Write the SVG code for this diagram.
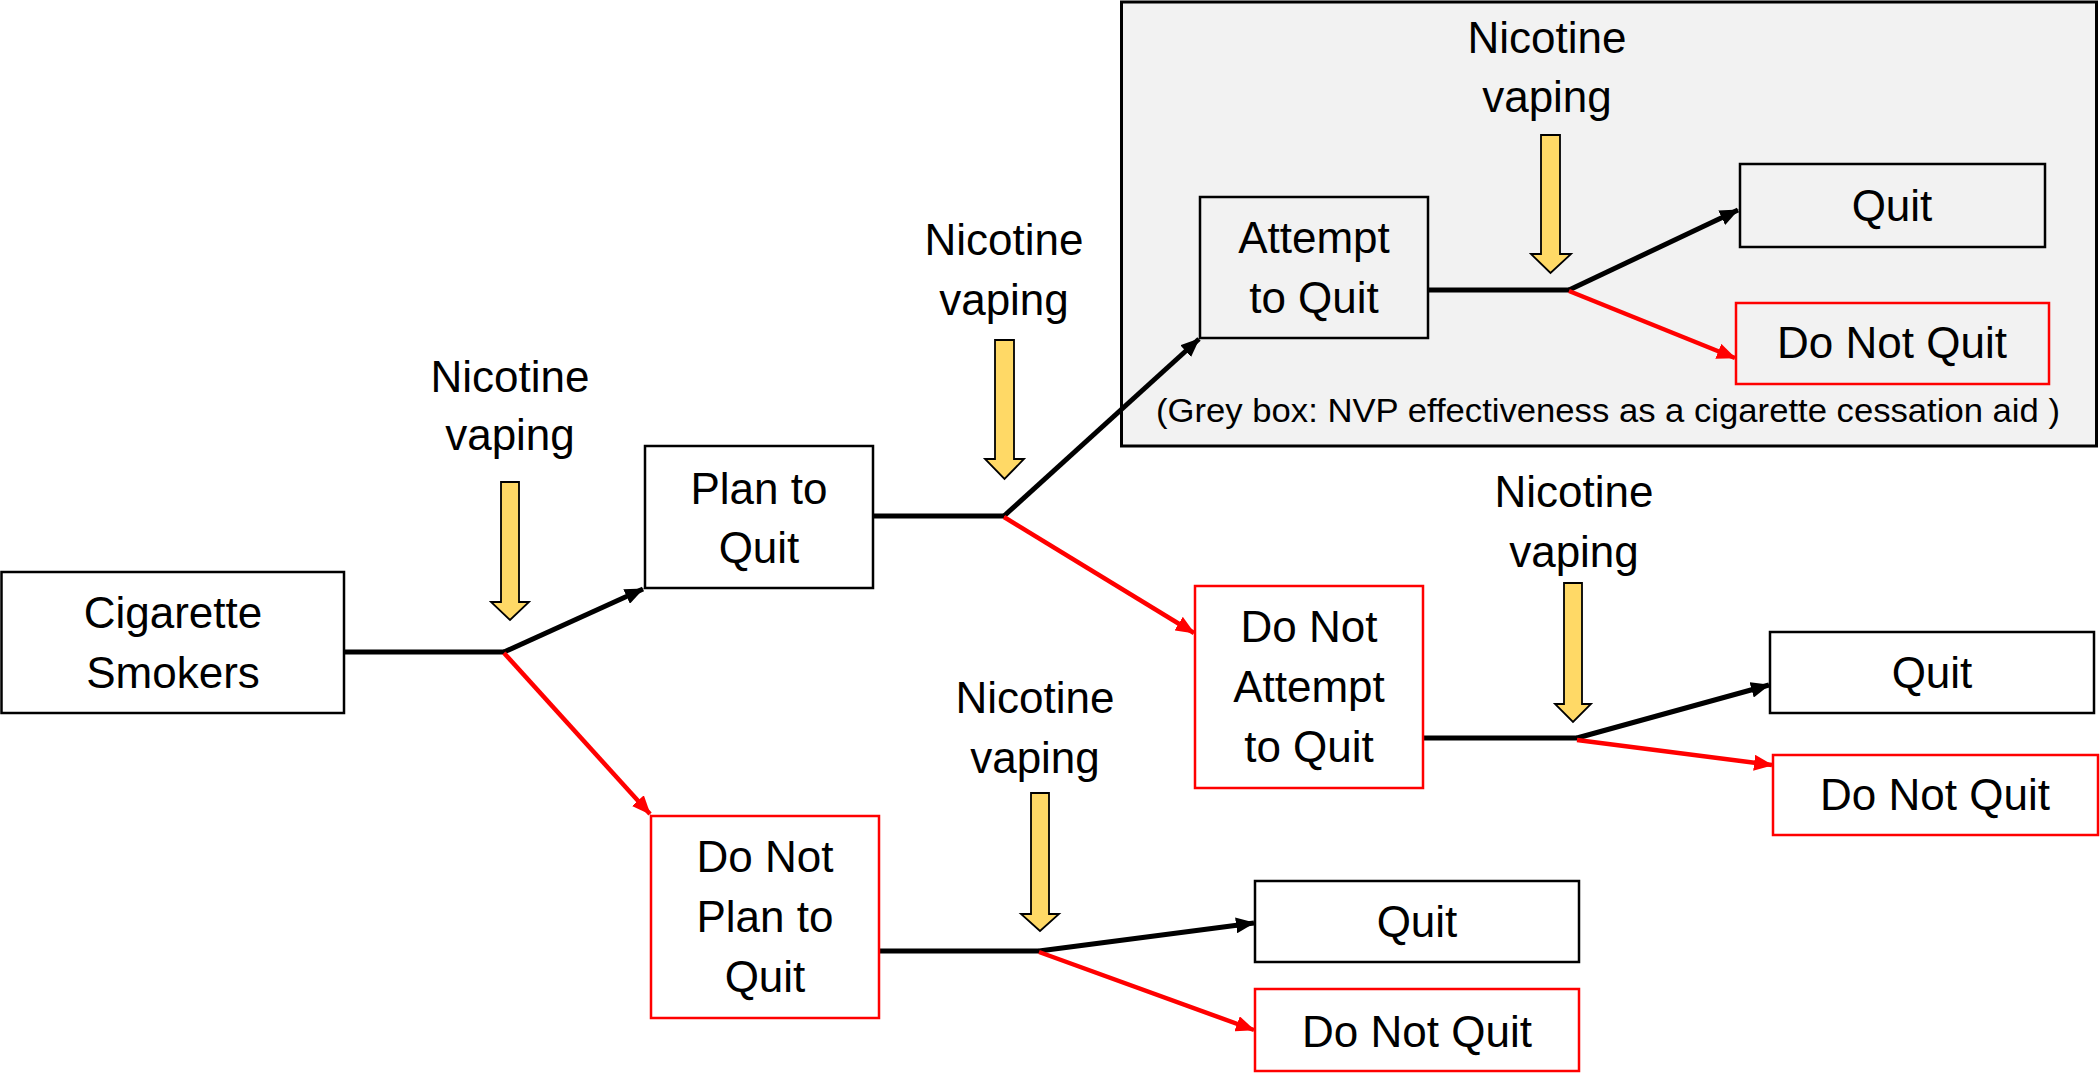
<svg xmlns="http://www.w3.org/2000/svg" width="2100" height="1073" viewBox="0 0 2100 1073">
<style>
text{font-family:"Liberation Sans",Arial,sans-serif;font-size:44px;fill:#000;text-anchor:middle}
.cap{font-size:33px}
.nb{fill:#fff;stroke:#000;stroke-width:2.5}
.rb{fill:#fff;stroke:#ff0000;stroke-width:2.5}
.blk{stroke:#000;stroke-width:5;fill:none}
.red{stroke:#ff0000;stroke-width:4.5;fill:none}
.ya{fill:#ffd966;stroke:#000;stroke-width:1.8}
</style>
<defs>
<marker id="ab" markerUnits="userSpaceOnUse" markerWidth="20" markerHeight="16" refX="18" refY="8" orient="auto"><path d="M0,0 L19,8 L0,16 z" fill="#000"/></marker>
<marker id="ar" markerUnits="userSpaceOnUse" markerWidth="20" markerHeight="16" refX="18" refY="8" orient="auto"><path d="M0,0 L19,8 L0,16 z" fill="#ff0000"/></marker>
</defs>

<g id="grey-box">
<rect x="1121.5" y="2" width="975" height="444" fill="#f2f2f2" stroke="#000" stroke-width="3"/>
<text class="cap" x="1608" y="422" textLength="904" lengthAdjust="spacingAndGlyphs">(Grey box: NVP effectiveness as a cigarette cessation aid )</text>
</g>

<g id="connectors">
<path class="blk" d="M344,652 H504"/>
<path class="blk" d="M504,652 L643,589" marker-end="url(#ab)"/>
<path class="red" d="M504,653 L650,814" marker-end="url(#ar)"/>
<path class="blk" d="M873,516 H1004"/>
<path class="blk" d="M1004,516 L1199,339" marker-end="url(#ab)"/>
<path class="red" d="M1004,517 L1194,633" marker-end="url(#ar)"/>
<path class="blk" d="M1428,290 H1569"/>
<path class="blk" d="M1569,290 L1738,210" marker-end="url(#ab)"/>
<path class="red" d="M1569,291 L1735,358" marker-end="url(#ar)"/>
<path class="blk" d="M1423,738 H1577"/>
<path class="blk" d="M1577,738 L1769,685" marker-end="url(#ab)"/>
<path class="red" d="M1577,740 L1772,765" marker-end="url(#ar)"/>
<path class="blk" d="M879,951 H1039"/>
<path class="blk" d="M1039,951 L1254,923" marker-end="url(#ab)"/>
<path class="red" d="M1039,952 L1254,1030" marker-end="url(#ar)"/>
</g>

<g id="vaping-1">
<text x="510" y="392">Nicotine</text><text x="510" y="450">vaping</text>
<path class="ya" d="M501,482 H519 V602 H529 L510,620 L491,602 H501 Z"/>
</g>
<g id="vaping-2">
<text x="1004" y="255">Nicotine</text><text x="1004" y="315">vaping</text>
<path class="ya" d="M995,340 H1014 V459 H1024 L1004.5,479 L985,459 H995 Z"/>
</g>
<g id="vaping-3">
<text x="1547" y="53">Nicotine</text><text x="1547" y="112">vaping</text>
<path class="ya" d="M1541,135 H1560 V254 H1571 L1550.5,273 L1531,254 H1541 Z"/>
</g>
<g id="vaping-4">
<text x="1574" y="507">Nicotine</text><text x="1574" y="567">vaping</text>
<path class="ya" d="M1564,583 H1582 V704 H1591 L1573,722 L1555,704 H1564 Z"/>
</g>
<g id="vaping-5">
<text x="1035" y="713">Nicotine</text><text x="1035" y="773">vaping</text>
<path class="ya" d="M1031,793 H1049 V914 H1059 L1040,931 L1021,914 H1031 Z"/>
</g>

<g id="cigarette-smokers">
<rect class="nb" x="1.5" y="572" width="342.5" height="141"/>
<text x="173" y="628">Cigarette</text><text x="173" y="688">Smokers</text>
</g>
<g id="plan-to-quit">
<rect class="nb" x="645" y="446" width="228" height="142"/>
<text x="759" y="504">Plan to</text><text x="759" y="563">Quit</text>
</g>
<g id="do-not-plan">
<rect class="rb" x="651" y="816" width="228" height="202"/>
<text x="765" y="872">Do Not</text><text x="765" y="932">Plan to</text><text x="765" y="992">Quit</text>
</g>
<g id="attempt-to-quit">
<rect class="nb" x="1200" y="197" width="228" height="141" style="fill:#f2f2f2"/>
<text x="1314" y="253">Attempt</text><text x="1314" y="313">to Quit</text>
</g>
<g id="do-not-attempt">
<rect class="rb" x="1195" y="586" width="228" height="202"/>
<text x="1309" y="642">Do Not</text><text x="1309" y="702">Attempt</text><text x="1309" y="762">to Quit</text>
</g>
<g id="quit-1">
<rect class="nb" x="1740" y="164" width="305" height="83" style="fill:#f2f2f2"/>
<text x="1892" y="221">Quit</text>
</g>
<g id="do-not-quit-1">
<rect class="rb" x="1736" y="303" width="313" height="81" style="fill:#f2f2f2"/>
<text x="1892" y="358">Do Not Quit</text>
</g>
<g id="quit-2">
<rect class="nb" x="1770" y="632" width="324" height="81"/>
<text x="1932" y="688">Quit</text>
</g>
<g id="do-not-quit-2">
<rect class="rb" x="1773" y="755" width="325" height="80"/>
<text x="1935" y="810">Do Not Quit</text>
</g>
<g id="quit-3">
<rect class="nb" x="1255" y="881" width="324" height="81"/>
<text x="1417" y="937">Quit</text>
</g>
<g id="do-not-quit-3">
<rect class="rb" x="1255" y="989" width="324" height="82"/>
<text x="1417" y="1047">Do Not Quit</text>
</g>
</svg>
